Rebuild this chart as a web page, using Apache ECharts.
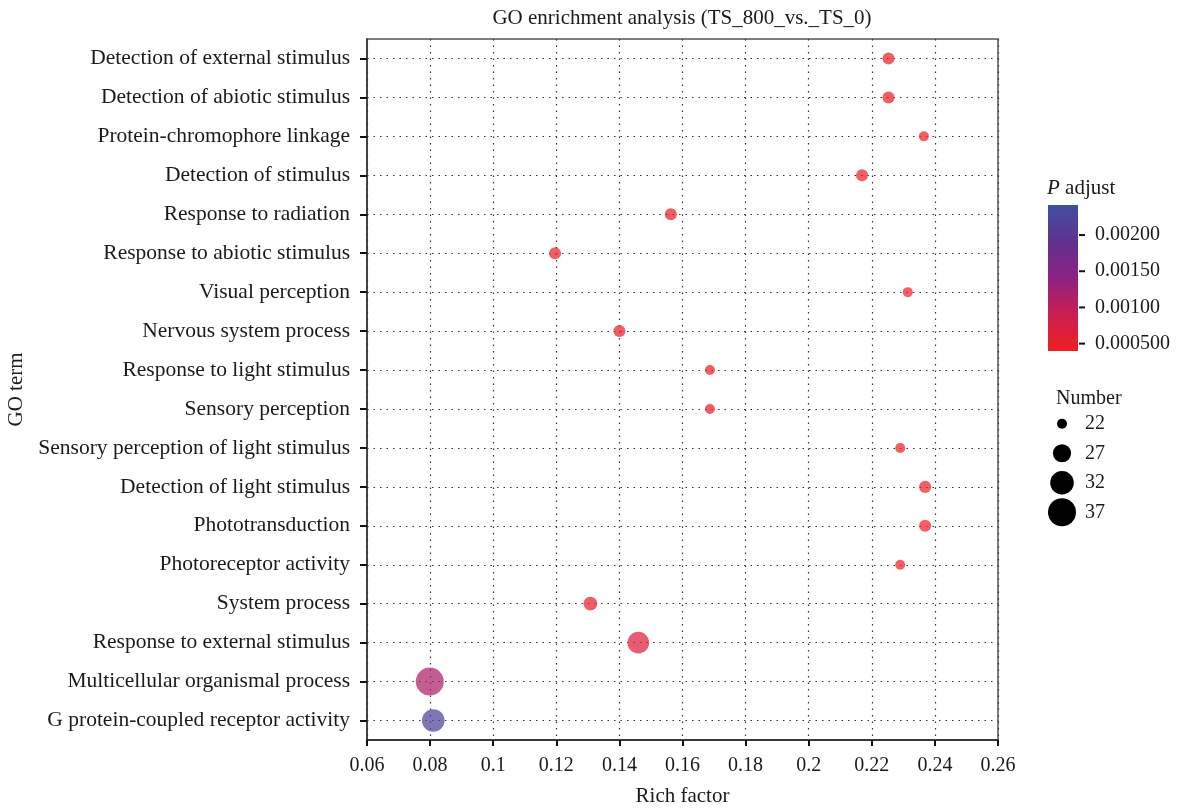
<!DOCTYPE html>
<html><head><meta charset="utf-8">
<script src="https://cdn.jsdelivr.net/npm/echarts@6/dist/echarts.min.js"></script>
<style>html,body{margin:0;padding:0;background:#fff}#c{width:1187px;height:809px}</style>
</head><body><div id="c"></div>
<script>
// ---- data (top to bottom as in the figure) ----
const terms = [
  'Detection of external stimulus',
  'Detection of abiotic stimulus',
  'Protein-chromophore linkage',
  'Detection of stimulus',
  'Response to radiation',
  'Response to abiotic stimulus',
  'Visual perception',
  'Nervous system process',
  'Response to light stimulus',
  'Sensory perception',
  'Sensory perception of light stimulus',
  'Detection of light stimulus',
  'Phototransduction',
  'Photoreceptor activity',
  'System process',
  'Response to external stimulus',
  'Multicellular organismal process',
  'G protein-coupled receptor activity'
];
const richFactor = [0.2253, 0.2253, 0.2365, 0.2169, 0.1563, 0.1196, 0.2314, 0.1400, 0.1687, 0.1687, 0.2290, 0.2369, 0.2369, 0.2290, 0.1308, 0.1460, 0.0799, 0.0810];
const geneNumber = [23, 23, 22, 23, 23, 23, 22, 23, 22, 22, 22, 23, 23, 22, 24, 30, 37, 31];
const pAdjust = [0.00042, 0.00042, 0.00040, 0.00043, 0.00045, 0.00046, 0.00040, 0.00046, 0.00042, 0.00042, 0.00040, 0.00041, 0.00041, 0.00040, 0.00050, 0.00066, 0.00115, 0.00222];
const xTickLabels = ['0.06', '0.08', '0.1', '0.12', '0.14', '0.16', '0.18', '0.2', '0.22', '0.24', '0.26'];
const colorTickValues = [0.0005, 0.001, 0.0015, 0.002];
const colorTickLabels = ['0.000500', '0.00100', '0.00150', '0.00200'];
const pRange = [0.000398, 0.002415];
const sizeLegendValues = [22, 27, 32, 37];
const gradientColors = ['#EE2024', '#CB1E50', '#8C2283', '#60318F', '#3F4FA1'];

const FONT = 'Liberation Serif';
const sizeOf = n => Math.sqrt(Math.max(30, 100 + 45.6 * (n - 22)));

const chart = echarts.init(document.getElementById('c'), null, { renderer: 'canvas' });

const mainData = terms.map((t, i) => [richFactor[i], t, geneNumber[i], pAdjust[i]]);

const option = {
  backgroundColor: '#fff',
  animation: false,
  textStyle: { fontFamily: FONT, color: '#1a1a1a' },
  title: [
    { text: 'GO enrichment analysis (TS_800_vs._TS_0)', left: 682, top: 8, textAlign: 'center', padding: 0,
      textStyle: { fontFamily: FONT, fontSize: 21, fontWeight: 'normal', color: '#1a1a1a' } },
    { text: '{i|P} adjust', left: 1047, top: 178, padding: 0,
      textStyle: { fontFamily: FONT, fontSize: 21, fontWeight: 'normal', color: '#1a1a1a',
        rich: { i: { fontFamily: FONT, fontStyle: 'italic', fontSize: 21, color: '#1a1a1a' } } } },
    { text: 'Number', left: 1056, top: 389, padding: 0,
      textStyle: { fontFamily: FONT, fontSize: 20, fontWeight: 'normal', color: '#1a1a1a' } }
  ],
  grid: [
    { left: 367, top: 39, width: 631, height: 701, show: true, borderColor: '#555', borderWidth: 1.5,
      containLabel: false, outerBoundsMode: 'none' },
    { left: 1048, top: 205, width: 30, height: 146, show: false, outerBoundsMode: 'none' },
    { left: 1048, top: 409, width: 28, height: 118, show: false, outerBoundsMode: 'none' }
  ],
  xAxis: [
    { type: 'value', gridIndex: 0, min: 0.06, max: 0.26, interval: 0.02,
      name: 'Rich factor', nameLocation: 'middle', nameGap: 46,
      nameTextStyle: { fontFamily: FONT, fontSize: 21, color: '#1a1a1a' },
      axisLine: { show: true, onZero: false, lineStyle: { color: '#222', width: 1.5 } },
      axisTick: { show: true, inside: false, length: 6, lineStyle: { color: '#111', width: 2 } },
      axisLabel: { fontFamily: FONT, fontSize: 20, color: '#1a1a1a', margin: 16,
        formatter: v => xTickLabels[Math.round((v - 0.06) / 0.02)] },
      splitLine: { show: true, lineStyle: { color: '#333', width: 1.2, type: [1.5, 5] } } },
    { type: 'value', gridIndex: 1, min: 0, max: 1, show: false },
    { type: 'value', gridIndex: 2, min: 0, max: 1, show: false }
  ],
  yAxis: [
    { type: 'category', gridIndex: 0, data: terms, inverse: true, boundaryGap: true,
      name: 'GO term', nameLocation: 'middle', nameGap: 336,
      nameTextStyle: { fontFamily: FONT, fontSize: 21, color: '#1a1a1a' },
      axisLine: { show: true, lineStyle: { color: '#333', width: 1.5 } },
      axisTick: { show: true, alignWithLabel: true, inside: false, length: 7, lineStyle: { color: '#111', width: 2 } },
      axisLabel: { fontFamily: FONT, fontSize: 21.5, color: '#1a1a1a', margin: 17, interval: 0 },
      splitLine: { show: false } },
    { type: 'value', gridIndex: 1, min: pRange[0], max: pRange[1], position: 'right',
      axisLine: { show: false },
      axisTick: { show: false },
      axisLabel: { show: true, fontFamily: FONT, fontSize: 20, color: '#1a1a1a', margin: 17, customValues: colorTickValues,
        formatter: v => { const k = colorTickValues.findIndex(c => Math.abs(c - v) < 1e-9); return k >= 0 ? colorTickLabels[k] : ''; } },
      splitLine: { show: false } },
    { type: 'category', gridIndex: 2, data: sizeLegendValues.map(String), inverse: true, position: 'right',
      axisLine: { show: false }, axisTick: { show: false },
      axisLabel: { fontFamily: FONT, fontSize: 20, color: '#1a1a1a', margin: 9 },
      splitLine: { show: false } }
  ],
  visualMap: [
    { type: 'continuous', show: false, seriesIndex: 0, dimension: 3,
      min: pRange[0], max: pRange[1], inRange: { color: gradientColors } }
  ],
  series: [
    { type: 'scatter', xAxisIndex: 0, yAxisIndex: 0, data: mainData,
      symbolSize: d => sizeOf(d[2]),
      itemStyle: { opacity: 0.72 }, z: 3,
      markLine: { silent: true, symbol: ['none', 'none'], label: { show: false },
        lineStyle: { color: '#333', width: 1.2, type: [1.5, 5] }, z: 1,
        data: terms.map(t => ({ yAxis: t })) } },
    { type: 'custom', xAxisIndex: 1, yAxisIndex: 1, data: [[0]], silent: true, z: 1,
      renderItem: (params, api) => {
        const p0 = api.coord([0, pRange[0]]);
        const p1 = api.coord([1, pRange[1]]);
        const stops = gradientColors.map((c, i) => ({ offset: i / (gradientColors.length - 1), color: c }));
        return { type: 'rect', shape: { x: p0[0], y: p1[1], width: p1[0] - p0[0], height: p0[1] - p1[1] },
          style: { fill: new echarts.graphic.LinearGradient(0, 1, 0, 0, stops) } };
      } },
    { type: 'scatter', xAxisIndex: 1, yAxisIndex: 1, silent: true, z: 4,
      data: colorTickValues.map(v => [1, v]),
      symbol: 'rect', symbolSize: [6, 2], symbolOffset: [4, 0],
      itemStyle: { color: '#111', opacity: 1 } },
    { type: 'scatter', xAxisIndex: 2, yAxisIndex: 2, silent: true,
      data: sizeLegendValues.map(v => [0.5, String(v), v]),
      symbolSize: d => sizeOf(d[2]), itemStyle: { color: '#000', opacity: 1 } }
  ]
};
chart.setOption(option);
</script></body></html>
